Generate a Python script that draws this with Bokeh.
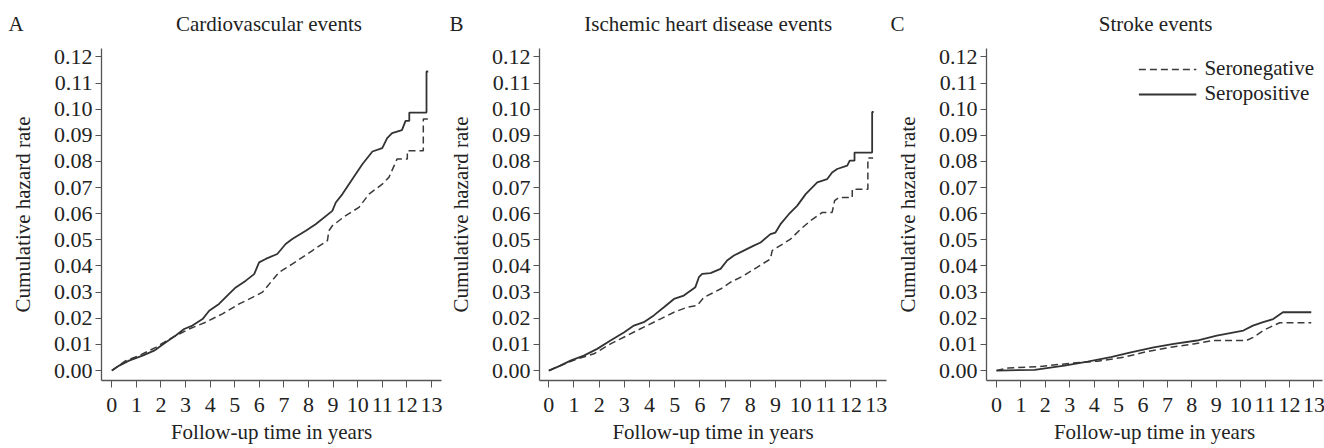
from bokeh.plotting import figure
from bokeh.layouts import row
from bokeh.models import FixedTicker, PrintfTickFormatter, Range1d
from bokeh.embed import file_html
from bokeh.resources import INLINE

FONT = "Liberation Serif"
TXT = "#222222"
LINE = "#333333"
NBSP = "\u00a0"

x_ticks = list(range(14))
y_ticks = [0.00, 0.01, 0.02, 0.03, 0.04, 0.05, 0.06, 0.07, 0.08, 0.09, 0.10, 0.11, 0.12]

panel_letters = ["A", "B", "C"]
panel_titles = ["Cardiovascular events", "Ischemic heart disease events", "Stroke events"]
series_names = ["Seronegative", "Seropositive"]

# Panel A: cardiovascular events (time in years, cumulative hazard)
cv_pos_t = [0, 0.3, 0.7, 1.25, 1.72, 2.2, 2.6, 2.94, 3.28, 3.69, 3.96, 4.36, 4.77, 5.04, 5.45, 5.79,
            5.99, 6.26, 6.73, 7.07, 7.34, 7.89, 8.29, 8.97, 9.11, 9.38, 9.78, 10.19, 10.6, 11.0,
            11.2, 11.4, 11.8, 11.95, 12.1, 12.1, 12.8, 12.8, 12.87]
cv_pos_v = [0, 0.0019, 0.0038, 0.0057, 0.0076, 0.0108, 0.0134, 0.0159, 0.0172, 0.0197, 0.0229, 0.0255,
            0.0293, 0.0318, 0.0344, 0.0369, 0.0414, 0.0427, 0.0446, 0.0484, 0.0503, 0.0535, 0.0560,
            0.0611, 0.0643, 0.0675, 0.0732, 0.0789, 0.0838, 0.0851, 0.0889, 0.0908, 0.0920, 0.0955,
            0.0955, 0.0987, 0.0987, 0.1144, 0.1144]
cv_neg_t = [0, 0.57, 1.11, 1.79, 2.47, 3.14, 3.82, 4.5, 5.18, 5.72, 6.13, 6.8, 7.35, 8.16, 8.77, 8.83,
            8.97, 9.5, 10.05, 10.46, 11.0, 11.27, 11.48, 11.6, 12.02, 12.02, 12.67, 12.67, 12.88]
cv_neg_v = [0, 0.0038, 0.0057, 0.0089, 0.0127, 0.0159, 0.0185, 0.0217, 0.0255, 0.0280, 0.0300, 0.0376,
            0.0408, 0.0459, 0.0497, 0.0535, 0.0554, 0.0592, 0.0624, 0.0675, 0.0713, 0.0739, 0.0783,
            0.0809, 0.0809, 0.0841, 0.0841, 0.0962, 0.0962]

# Panel B: ischemic heart disease events
ihd_pos_t = [0, 0.46, 0.86, 1.39, 1.92, 2.45, 2.98, 3.38, 3.77, 4.17, 4.57, 4.97, 5.36, 5.82, 5.96,
             6.09, 6.42, 6.82, 7.08, 7.35, 7.74, 8.14, 8.41, 8.8, 9.0, 9.2, 9.53, 9.86, 10.2, 10.66,
             11.05, 11.25, 11.45, 11.85, 11.95, 12.14, 12.14, 12.84, 12.84, 12.9]
ihd_pos_v = [0, 0.0019, 0.0038, 0.0057, 0.0083, 0.0115, 0.0146, 0.0172, 0.0185, 0.0211, 0.0242, 0.0274,
             0.0287, 0.0319, 0.0357, 0.0370, 0.0373, 0.0389, 0.0421, 0.0440, 0.0459, 0.0478, 0.0490,
             0.0522, 0.0528, 0.0560, 0.0598, 0.0630, 0.0675, 0.0720, 0.0732, 0.0758, 0.0771, 0.0784,
             0.0803, 0.0803, 0.0834, 0.0834, 0.0989, 0.0989]
ihd_neg_t = [0, 0.6, 1.13, 1.79, 2.45, 3.11, 3.77, 4.44, 4.97, 5.49, 5.89, 6.16, 6.82, 7.22, 7.74, 8.27,
             8.8, 8.87, 9.07, 9.6, 10.0, 10.39, 10.86, 11.25, 11.35, 11.52, 12.05, 12.05, 12.67, 12.67,
             12.88]
ihd_neg_v = [0, 0.0025, 0.0045, 0.0064, 0.0102, 0.0134, 0.0166, 0.0198, 0.0223, 0.0242, 0.0249, 0.0280,
             0.0312, 0.0338, 0.0363, 0.0395, 0.0427, 0.0459, 0.0471, 0.0503, 0.0541, 0.0573, 0.0605,
             0.0605, 0.0650, 0.0662, 0.0662, 0.0694, 0.0694, 0.0813, 0.0813]

# Panel C: stroke events
st_pos_t = [0, 1.56, 2.78, 3.73, 4.68, 5.5, 6.44, 7.26, 8.21, 9.02, 10.11, 10.5, 10.92, 11.33, 11.67,
            11.73, 12.89]
st_pos_v = [0, 0.0003, 0.0019, 0.0034, 0.0051, 0.0070, 0.0089, 0.0102, 0.0115, 0.0134, 0.0153, 0.0172,
            0.0185, 0.0197, 0.0219, 0.0223, 0.0223]
st_neg_t = [0, 0.48, 1.7, 3.05, 4.14, 5.22, 6.04, 7.12, 8.07, 8.89, 10.24, 10.51, 10.92, 11.33, 11.6,
            12.89]
st_neg_v = [0, 0.0010, 0.0015, 0.0028, 0.0036, 0.0051, 0.0070, 0.0089, 0.0102, 0.0115, 0.0115, 0.0127,
            0.0153, 0.0172, 0.0183, 0.0183]

panels = [
    dict(neg=(cv_neg_t, cv_neg_v), pos=(cv_pos_t, cv_pos_v), fw=340, left=101, right=4,
         xr=(-0.42, 13.41), legend=False, letter_off=-93, gap=29),
    dict(neg=(ihd_neg_t, ihd_neg_v), pos=(ihd_pos_t, ihd_pos_v), fw=347, left=91, right=3,
         xr=(-0.37, 13.41), legend=False, letter_off=-90, gap=23),
    dict(neg=(st_neg_t, st_neg_v), pos=(st_pos_t, st_pos_v), fw=336, left=97, right=3,
         xr=(-0.41, 13.35), legend=True, letter_off=-96, gap=37),
]

figs = []
for i, cfg in enumerate(panels):
    p = figure(frame_width=cfg["fw"], frame_height=332, output_backend="svg", toolbar_location=None,
               x_range=Range1d(*cfg["xr"]), y_range=Range1d(-0.0038, 0.1232),
               min_border_left=cfg["left"], min_border_right=cfg["right"],
               min_border_top=48, min_border_bottom=66)
    p.outline_line_color = None
    p.grid.visible = False
    p.background_fill_color = "white"
    p.border_fill_color = "white"

    # panel letter and panel title share one title line
    p.title.text = panel_letters[i] + NBSP * cfg["gap"] + panel_titles[i]
    p.title.align = "left"
    p.title.offset = cfg["letter_off"]
    p.title.vertical_align = "top"
    p.title.standoff = 22
    p.title.text_font = FONT
    p.title.text_font_size = "21px"
    p.title.text_font_style = "normal"
    p.title.text_color = TXT

    for ax in (p.xaxis[0], p.yaxis[0]):
        ax.axis_line_color = "#555555"
        ax.axis_line_width = 1.3
        ax.major_tick_line_color = "#555555"
        ax.major_tick_line_width = 1
        ax.major_tick_in = 0
        ax.minor_tick_line_color = None
        ax.major_label_text_font = FONT
        ax.major_label_text_font_size = "22px"
        ax.major_label_text_color = TXT
        ax.axis_label_text_font = FONT
        ax.axis_label_text_font_size = "21px"
        ax.axis_label_text_font_style = "normal"
        ax.axis_label_text_color = TXT

    p.xaxis.ticker = FixedTicker(ticks=x_ticks)
    p.xaxis.major_tick_out = 7
    p.xaxis.major_label_standoff = 10
    p.xaxis.axis_label = "Follow-up time in years"
    p.xaxis.axis_label_standoff = 5

    p.yaxis.ticker = FixedTicker(ticks=y_ticks)
    p.yaxis.formatter = PrintfTickFormatter(format="%.2f")
    p.yaxis.major_tick_out = 6
    p.yaxis.major_label_standoff = 3
    p.yaxis.axis_label = "Cumulative hazard rate"
    p.yaxis.axis_label_standoff = 16

    nt, nv = cfg["neg"]
    pt, pv = cfg["pos"]
    kw_neg = dict(legend_label=series_names[0]) if cfg["legend"] else {}
    kw_pos = dict(legend_label=series_names[1]) if cfg["legend"] else {}
    p.line(nt, nv, line_color="#3a3a3a", line_width=1.5, line_dash="7 4", **kw_neg)
    p.line(pt, pv, line_color=LINE, line_width=1.8, **kw_pos)

    if cfg["legend"]:
        lg = p.legend[0]
        lg.location = "top_right"
        lg.border_line_color = None
        lg.background_fill_alpha = 0
        lg.label_text_font = FONT
        lg.label_text_font_size = "21px"
        lg.label_text_line_height = 1.0
        lg.label_text_color = TXT
        lg.glyph_width = 58
        lg.glyph_height = 20
        lg.label_height = 20
        lg.spacing = 0
        lg.padding = 0
        lg.margin = 8
        lg.label_standoff = 8

    figs.append(p)

layout = row(*figs, spacing=0)
open("out.html", "w").write(file_html(layout, INLINE))
